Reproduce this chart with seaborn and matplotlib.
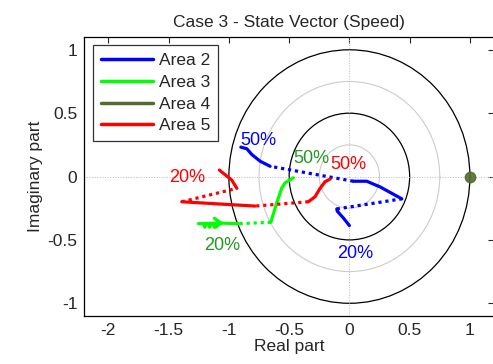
import numpy as np
import pandas as pd
import matplotlib
matplotlib.use("Agg")
import matplotlib.pyplot as plt
from matplotlib.lines import Line2D
from matplotlib.patches import Circle
import seaborn as sns

# trajectories: (style, x values, y values)
area2_segments = [
    ("solid", [0.0, -0.05, -0.10, -0.105], [-0.387, -0.327, -0.274, -0.256]),
    ("dotted", [-0.105, 0.435], [-0.256, -0.176]),
    ("solid", [0.435, 0.255, 0.144, 0.033], [-0.176, -0.082, -0.037, -0.037]),
    ("dotted", [0.033, -0.658], [-0.037, 0.081]),
    ("solid", [-0.658, -0.741, -0.81, -0.851, -0.901], [0.081, 0.121, 0.174, 0.219, 0.232]),
]
area3_segments = [
    ("solid", [-0.465, -0.534, -0.561, -0.603, -0.652], [-0.01, -0.05, -0.09, -0.208, -0.361]),
    ("dotted", [-0.652, -0.921], [-0.361, -0.372]),
    ("solid", [-0.921, -1.065, -1.253], [-0.372, -0.367, -0.372]),
    ("solid", [-1.12, -1.065, -1.11], [-0.33, -0.367, -0.40]),
    ("solid", [-1.21, -1.20, -1.19, -1.17, -1.16, -1.15, -1.13, -1.12],
              [-0.372, -0.40, -0.372, -0.372, -0.40, -0.372, -0.372, -0.40]),
]
area4_point = (1.0, 0.0)
area5_segments = [
    ("solid", [-0.16, -0.202, -0.243, -0.285, -0.34], [-0.02, -0.041, -0.093, -0.159, -0.199]),
    ("dotted", [-0.34, -0.783], [-0.199, -0.233]),
    ("solid", [-0.783, -1.391], [-0.233, -0.199]),
    ("dotted", [-1.391, -0.934], [-0.199, -0.093]),
    ("solid", [-0.934, -0.976, -1.079], [-0.093, -0.028, 0.051]),
]

pct_labels = ["50%", "20%", "50%", "20%", "50%", "20%"]
pct_x = [-0.755, 0.047, -0.312, -1.059, -0.008, -1.349]
pct_y = [0.288, -0.606, 0.144, -0.546, 0.096, -0.008]
pct_area = ["Area 2", "Area 2", "Area 3", "Area 3", "Area 5", "Area 5"]

legend_names = ["Area 2", "Area 3", "Area 4", "Area 5"]
line_colors = {"Area 2": "#0000ff", "Area 3": "#00ff00", "Area 4": "#556b2f", "Area 5": "#ff0000"}
text_colors = {"Area 2": "#0000ff", "Area 3": "#1f9a1f", "Area 5": "#ff0000"}

sns.set_style("white")
plt.rcParams["font.family"] = ["Liberation Sans", "DejaVu Sans"]
fs = 12.5

fig = plt.figure(figsize=(4.93, 3.64), dpi=100)
ax = fig.add_axes([0.171, 0.132, 0.831, 0.766])

# reference circles and axis lines
for r, col in [(0.25, "#cccccc"), (0.75, "#cccccc"), (0.5, "black"), (1.0, "black")]:
    ax.add_patch(Circle((0, 0), r, fill=False, edgecolor=col, lw=0.9 if col == "black" else 0.8, zorder=1))
ax.axhline(0, color="#bbbbbb", lw=0.7, ls=":", zorder=1)
ax.axvline(0, color="#bbbbbb", lw=0.7, ls=":", zorder=1)

for name, segs in [("Area 2", area2_segments), ("Area 3", area3_segments), ("Area 5", area5_segments)]:
    for style, xs, ys in segs:
        df = pd.DataFrame({"x": xs, "y": ys})
        ls = "-" if style == "solid" else (0, (1, 1.2))
        sns.lineplot(data=df, x="x", y="y", sort=False, estimator=None, ax=ax,
                     color=line_colors[name], lw=2.3, linestyle=ls, zorder=3)

ax.plot([area4_point[0]], [area4_point[1]], "o", color=line_colors["Area 4"], ms=7.5, alpha=0.9, zorder=4)

for lab, x, y, a in zip(pct_labels, pct_x, pct_y, pct_area):
    ax.text(x, y, lab, color=text_colors[a], fontsize=13, ha="center", va="center", zorder=5)

ax.set_xlim(-2.2, 1.2)
ax.set_ylim(-1.1, 1.1)
ax.set_xticks([-2, -1.5, -1, -0.5, 0, 0.5, 1])
ax.set_xticklabels(["-2", "-1.5", "-1", "-0.5", "0", "0.5", "1"])
ax.set_yticks([-1, -0.5, 0, 0.5, 1])
ax.set_yticklabels(["-1", "-0.5", "0", "0.5", "1"])
ax.tick_params(direction="in", length=4, width=0.8, top=True, right=True, labelsize=fs, pad=5)
for s in ax.spines.values():
    s.set_color("black")
    s.set_linewidth(0.9)
ax.set_xlabel("Real part", fontsize=fs, labelpad=1)
ax.set_ylabel("Imaginary part", fontsize=fs, labelpad=3)
ax.set_title("Case 3 - State Vector (Speed)", fontsize=fs, pad=7)

handles = [Line2D([0], [0], color=line_colors[n], lw=2.5) for n in legend_names]
leg = ax.legend(handles, legend_names, loc="upper left", fontsize=fs, frameon=True, fancybox=False,
                edgecolor="black", handlelength=3.0, handletextpad=0.35, borderpad=0.45,
                labelspacing=0.38, borderaxespad=0, bbox_to_anchor=(0.021, 0.971))
leg.get_frame().set_linewidth(0.9)

fig.savefig("out.png", dpi=100)
